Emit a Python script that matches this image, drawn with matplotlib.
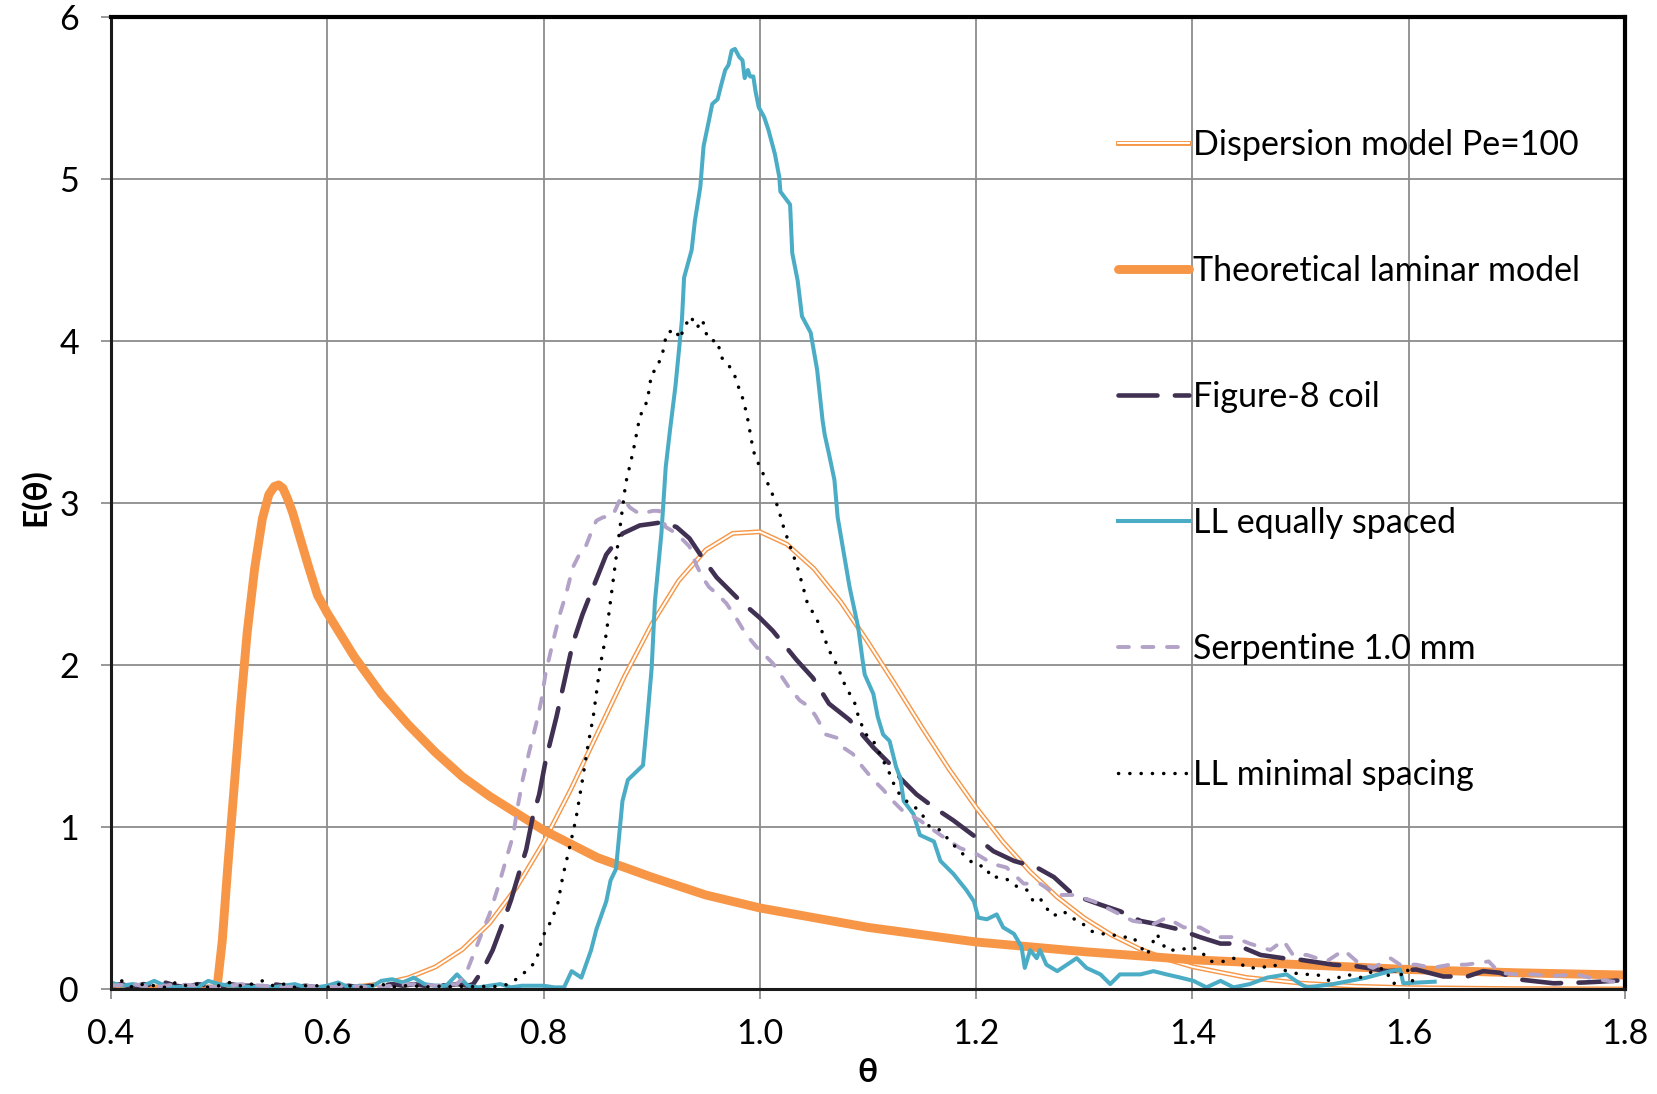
import matplotlib
matplotlib.use('Agg')
import matplotlib.pyplot as plt
import matplotlib.patheffects as pe

plt.rcParams['font.family'] = ['Lato', 'DejaVu Sans']

# dispersion model Pe=100
disp_x = [0.40, 0.50, 0.55, 0.60, 0.625, 0.65, 0.675, 0.70, 0.725, 0.75, 0.775, 0.80, 0.825, 0.85,
          0.875, 0.90, 0.925, 0.95, 0.975, 1.00, 1.025, 1.05, 1.075, 1.10, 1.125, 1.15, 1.175, 1.20,
          1.225, 1.25, 1.275, 1.30, 1.325, 1.35, 1.375, 1.40, 1.45, 1.50, 1.55, 1.60, 1.70, 1.80]
disp_y = [0.0, 0.0, 0.0, 0.005, 0.013, 0.031, 0.069, 0.136, 0.244, 0.405, 0.626, 0.904, 1.228, 1.579,
          1.930, 2.25, 2.519, 2.709, 2.811, 2.821, 2.744, 2.594, 2.387, 2.14, 1.880, 1.613, 1.356, 1.12,
          0.907, 0.723, 0.567, 0.438, 0.334, 0.251, 0.186, 0.137, 0.071, 0.036, 0.017, 0.008, 0.002, 0.0]

# theoretical laminar model
lam_x = [0.40, 0.498, 0.503, 0.508, 0.514, 0.520, 0.526, 0.533, 0.540, 0.546, 0.551, 0.555, 0.559,
         0.563, 0.568, 0.575, 0.583, 0.591, 0.60, 0.625, 0.65, 0.675, 0.70, 0.725, 0.75, 0.80, 0.85,
         0.90, 0.95, 1.00, 1.10, 1.20, 1.30, 1.40, 1.50, 1.60, 1.70, 1.80]
lam_y = [0.0, 0.0, 0.30, 0.75, 1.25, 1.75, 2.2, 2.6, 2.9, 3.05, 3.10, 3.11, 3.09,
         3.03, 2.94, 2.78, 2.60, 2.43, 2.32, 2.05, 1.82, 1.63, 1.46, 1.31, 1.19, 0.98, 0.81,
         0.69, 0.58, 0.50, 0.38, 0.29, 0.23, 0.18, 0.15, 0.12, 0.10, 0.086]

# Figure-8 coil
fig8_x = [0.40, 0.41, 0.42, 0.43, 0.44, 0.45, 0.46, 0.47, 0.48, 0.49, 0.50, 0.51, 0.52, 0.53, 0.54,
          0.55, 0.56, 0.57, 0.58, 0.59, 0.60, 0.61, 0.62, 0.63, 0.64, 0.65, 0.66, 0.67, 0.68, 0.69,
          0.70, 0.71, 0.72, 0.73, 0.735, 0.741, 0.747, 0.753, 0.762, 0.770, 0.778, 0.784, 0.790,
          0.796, 0.802, 0.812, 0.818, 0.827, 0.836, 0.846, 0.858, 0.873, 0.889, 0.900, 0.910, 0.923,
          0.935, 0.947, 0.960, 0.981, 1.000, 1.012, 1.034, 1.049, 1.064, 1.083, 1.105, 1.123, 1.130,
          1.145, 1.161, 1.179, 1.201, 1.216, 1.235, 1.256, 1.272, 1.290, 1.315, 1.333, 1.352, 1.367,
          1.386, 1.407, 1.426, 1.438, 1.463, 1.484, 1.500, 1.530, 1.552, 1.580, 1.607, 1.632, 1.654,
          1.669, 1.684, 1.703, 1.734, 1.762, 1.777, 1.800]
fig8_y = [0.02, 0.03, 0.01, 0.03, 0.02, 0.04, 0.02, 0.01, 0.03, 0.02, 0.01, 0.03, 0.02, 0.02, 0.01,
          0.03, 0.02, 0.01, 0.02, 0.01, 0.02, 0.01, 0.02, 0.01, 0.02, 0.02, 0.03, 0.02, 0.03, 0.02,
          0.03, 0.02, 0.03, 0.02, 0.03, 0.09, 0.16, 0.24, 0.40, 0.55, 0.73, 0.86, 1.06,
          1.20, 1.41, 1.68, 1.86, 2.13, 2.31, 2.48, 2.68, 2.81, 2.86, 2.87, 2.88, 2.85,
          2.78, 2.66, 2.54, 2.40, 2.29, 2.21, 2.03, 1.92, 1.76, 1.66, 1.49, 1.37, 1.30,
          1.20, 1.12, 1.04, 0.93, 0.85, 0.79, 0.75, 0.69, 0.58, 0.52, 0.48, 0.42, 0.40,
          0.37, 0.32, 0.28, 0.28, 0.21, 0.19, 0.18, 0.15, 0.14, 0.11, 0.12, 0.077, 0.077,
          0.11, 0.10, 0.058, 0.035, 0.04, 0.045, 0.055]

# LL equally spaced
lleq_x = [0.40, 0.41, 0.42, 0.43, 0.44, 0.45, 0.46, 0.47, 0.48, 0.49, 0.50, 0.51, 0.52, 0.53, 0.54,
          0.55, 0.56, 0.57, 0.58, 0.59, 0.60, 0.61, 0.62, 0.63, 0.64, 0.65, 0.66, 0.67, 0.68, 0.69,
          0.70, 0.71, 0.72, 0.73, 0.74, 0.75, 0.76, 0.77, 0.78, 0.79, 0.80, 0.81, 0.819,
          0.826, 0.835, 0.844, 0.849, 0.858, 0.862, 0.867, 0.870, 0.873, 0.878, 0.892, 0.896, 0.900,
          0.903, 0.909, 0.913, 0.917, 0.922, 0.928, 0.930, 0.937, 0.940, 0.945, 0.948, 0.953, 0.956,
          0.961, 0.964, 0.968, 0.971, 0.974, 0.977, 0.981, 0.984, 0.986, 0.989, 0.991, 0.994, 0.996,
          0.999, 1.004, 1.008, 1.014, 1.018, 1.019, 1.028, 1.030, 1.035, 1.039, 1.047, 1.053, 1.058,
          1.060, 1.064, 1.069, 1.072, 1.080, 1.083, 1.091, 1.095, 1.097, 1.105, 1.109, 1.114, 1.120,
          1.126, 1.130, 1.133, 1.142, 1.148, 1.161, 1.167, 1.179, 1.191, 1.198, 1.202, 1.210, 1.219,
          1.225, 1.235, 1.242, 1.245, 1.250, 1.256, 1.259, 1.265, 1.275, 1.284, 1.293, 1.302, 1.315,
          1.324, 1.333, 1.352, 1.364, 1.376, 1.389, 1.401, 1.413, 1.426, 1.438, 1.453, 1.469, 1.487,
          1.500, 1.506, 1.530, 1.561, 1.583, 1.592, 1.595, 1.610, 1.624]
lleq_y = [0.04, 0.02, 0.03, 0.02, 0.05, 0.02, 0.01, 0.02, 0.01, 0.05, 0.03, 0.02, 0.02, 0.01, 0.02,
          0.01, 0.02, 0.03, 0.01, 0.01, 0.02, 0.04, 0.01, 0.02, 0.01, 0.05, 0.06, 0.04, 0.07, 0.03,
          0.02, 0.02, 0.09, 0.02, 0.01, 0.02, 0.03, 0.01, 0.02, 0.02, 0.02, 0.01, 0.01,
          0.11, 0.07, 0.24, 0.37, 0.54, 0.67, 0.74, 0.95, 1.16, 1.29, 1.38, 1.67, 1.98,
          2.39, 2.81, 3.22, 3.45, 3.72, 4.13, 4.39, 4.56, 4.74, 4.95, 5.20, 5.36, 5.46,
          5.49, 5.57, 5.67, 5.70, 5.79, 5.80, 5.75, 5.73, 5.62, 5.67, 5.63, 5.63, 5.54,
          5.44, 5.38, 5.30, 5.15, 5.01, 4.92, 4.84, 4.54, 4.37, 4.15, 4.05, 3.82, 3.51,
          3.42, 3.30, 3.14, 2.91, 2.60, 2.48, 2.23, 2.03, 1.94, 1.82, 1.68, 1.57, 1.53,
          1.37, 1.30, 1.16, 1.08, 0.95, 0.91, 0.79, 0.71, 0.61, 0.54, 0.44, 0.43, 0.46,
          0.38, 0.34, 0.26, 0.13, 0.24, 0.19, 0.24, 0.15, 0.11, 0.15, 0.19, 0.13, 0.09,
          0.03, 0.09, 0.09, 0.11, 0.09, 0.07, 0.05, 0.01, 0.05, 0.01, 0.03, 0.07, 0.09,
          0.03, 0.01, 0.03, 0.07, 0.11, 0.12, 0.035, 0.04, 0.045]

# Serpentine 1.0 mm
serp_x = [0.40, 0.42, 0.44, 0.46, 0.48, 0.50, 0.52, 0.54, 0.56, 0.58, 0.60, 0.62, 0.64, 0.66, 0.68,
          0.70, 0.72, 0.728, 0.738, 0.745, 0.750, 0.759, 0.765, 0.772, 0.776, 0.781, 0.787, 0.793,
          0.798, 0.802, 0.809, 0.815, 0.821, 0.827, 0.833, 0.839, 0.846, 0.849, 0.855, 0.864, 0.870,
          0.873, 0.880, 0.889, 0.901, 0.907, 0.913, 0.923, 0.935, 0.941, 0.947, 0.953, 0.960, 0.969,
          0.978, 0.987, 0.997, 1.003, 1.012, 1.021, 1.027, 1.037, 1.046, 1.052, 1.061, 1.071, 1.077,
          1.086, 1.095, 1.105, 1.114, 1.123, 1.132, 1.148, 1.167, 1.185, 1.201, 1.216, 1.228, 1.244,
          1.259, 1.275, 1.290, 1.309, 1.327, 1.345, 1.364, 1.376, 1.392, 1.407, 1.423, 1.438, 1.453,
          1.472, 1.484, 1.493, 1.506, 1.524, 1.540, 1.552, 1.567, 1.583, 1.592, 1.607, 1.622, 1.638,
          1.653, 1.674, 1.684, 1.699, 1.715, 1.733, 1.755, 1.770, 1.789, 1.797]
serp_y = [0.02, 0.03, 0.01, 0.03, 0.02, 0.01, 0.03, 0.02, 0.01, 0.02, 0.01, 0.02, 0.01, 0.02, 0.03,
          0.02, 0.03, 0.09, 0.26, 0.38, 0.46, 0.65, 0.79, 0.95, 1.12, 1.30, 1.47, 1.63,
          1.78, 1.95, 2.15, 2.31, 2.44, 2.60, 2.68, 2.73, 2.85, 2.89, 2.91, 2.92, 3.01,
          3.03, 2.97, 2.93, 2.95, 2.95, 2.85, 2.81, 2.73, 2.62, 2.54, 2.48, 2.44, 2.38,
          2.29, 2.19, 2.11, 2.07, 2.01, 1.92, 1.86, 1.78, 1.74, 1.68, 1.57, 1.55, 1.49,
          1.45, 1.37, 1.29, 1.23, 1.16, 1.10, 1.04, 0.95, 0.87, 0.83, 0.77, 0.75, 0.65,
          0.65, 0.58, 0.58, 0.54, 0.48, 0.42, 0.40, 0.44, 0.38, 0.38, 0.32, 0.32, 0.28,
          0.24, 0.30, 0.21, 0.21, 0.17, 0.24, 0.17, 0.13, 0.19, 0.15, 0.15, 0.13, 0.15,
          0.15, 0.17, 0.10, 0.09, 0.09, 0.08, 0.09, 0.065, 0.045, 0.055]

# LL minimal spacing
llmin_x = [0.40, 0.41, 0.42, 0.43, 0.44, 0.45, 0.46, 0.47, 0.48, 0.49, 0.50, 0.51, 0.52, 0.53, 0.54,
           0.55, 0.56, 0.57, 0.58, 0.59, 0.60, 0.61, 0.62, 0.63, 0.64, 0.65, 0.66, 0.67, 0.68, 0.69,
           0.70, 0.71, 0.72, 0.73, 0.74, 0.75, 0.76, 0.769, 0.784, 0.793, 0.799, 0.807, 0.813, 0.818,
           0.824, 0.830, 0.836, 0.841, 0.846, 0.852, 0.858, 0.864, 0.870, 0.876, 0.883, 0.889, 0.896,
           0.900, 0.904, 0.910, 0.914, 0.919, 0.922, 0.926, 0.930, 0.936, 0.942, 0.947, 0.950, 0.954,
           0.961, 0.964, 0.970, 0.974, 0.977, 0.981, 0.985, 0.989, 0.994, 1.000, 1.006, 1.017, 1.021,
           1.027, 1.034, 1.040, 1.044, 1.046, 1.055, 1.064, 1.072, 1.077, 1.080, 1.088, 1.092, 1.100,
           1.105, 1.114, 1.120, 1.126, 1.132, 1.139, 1.148, 1.157, 1.167, 1.176, 1.185, 1.198, 1.210,
           1.213, 1.222, 1.231, 1.238, 1.247, 1.253, 1.259, 1.265, 1.271, 1.281, 1.287, 1.296, 1.305,
           1.315, 1.324, 1.333, 1.345, 1.358, 1.367, 1.376, 1.389, 1.398, 1.407, 1.416, 1.429, 1.438,
           1.450, 1.463, 1.475, 1.487, 1.500, 1.515, 1.527, 1.543, 1.555, 1.567, 1.577, 1.586, 1.598,
           1.605]
llmin_y = [0.03, 0.05, 0.01, 0.03, 0.02, 0.01, 0.04, 0.02, 0.03, 0.01, 0.02, 0.04, 0.02, 0.03, 0.05,
           0.02, 0.03, 0.01, 0.02, 0.02, 0.01, 0.03, 0.02, 0.01, 0.02, 0.03, 0.01, 0.02, 0.02, 0.01,
           0.02, 0.01, 0.02, 0.01, 0.02, 0.01, 0.02, 0.03, 0.11, 0.17, 0.32, 0.42, 0.52, 0.70,
           0.87, 1.05, 1.29, 1.50, 1.68, 1.98, 2.19, 2.50, 2.81, 3.12, 3.32, 3.53, 3.63,
           3.80, 3.82, 3.92, 4.05, 4.06, 4.07, 4.01, 4.08, 4.15, 4.08, 4.13, 4.05, 4.00,
           4.00, 3.90, 3.86, 3.82, 3.78, 3.70, 3.63, 3.51, 3.32, 3.22, 3.14, 2.97, 2.87,
           2.75, 2.62, 2.48, 2.38, 2.36, 2.25, 2.09, 1.99, 1.90, 1.86, 1.76, 1.66, 1.55,
           1.53, 1.41, 1.33, 1.23, 1.18, 1.14, 1.10, 1.00, 0.98, 0.91, 0.85, 0.77, 0.75,
           0.69, 0.69, 0.67, 0.63, 0.61, 0.54, 0.56, 0.50, 0.45, 0.48, 0.44, 0.42, 0.36,
           0.34, 0.34, 0.32, 0.32, 0.21, 0.34, 0.24, 0.24, 0.26, 0.24, 0.17, 0.17, 0.19,
           0.13, 0.13, 0.15, 0.11, 0.09, 0.09, 0.05, 0.09, 0.07, 0.11, 0.13, 0.03, 0.13,
           0.03]

x_ticks = [0.4, 0.6, 0.8, 1.0, 1.2, 1.4, 1.6, 1.8]
y_ticks = [0, 1, 2, 3, 4, 5, 6]

orange = '#F79646'
fig = plt.figure(figsize=(16.58, 10.94), dpi=100)
ax = fig.add_axes([0.0669, 0.0960, 0.9132, 0.8889])

ax.plot(disp_x, disp_y, color='white', lw=1.45, label='Dispersion model Pe=100',
        path_effects=[pe.Stroke(linewidth=3.5, foreground=orange), pe.Normal()])
ax.plot(lam_x, lam_y, color=orange, lw=6.4, solid_capstyle='round', solid_joinstyle='round',
        label='Theoretical laminar model')
ax.plot(fig8_x, fig8_y, color='#403152', lw=3.3, linestyle=(0, (8.5, 3.8)), dash_capstyle='round',
        label='Figure-8 coil')
ax.plot(lleq_x, lleq_y, color='#4BACC6', lw=2.9, label='LL equally spaced')
ax.plot(serp_x, serp_y, color='#B3A2C7', lw=2.8, linestyle=(0, (2.8, 3.5)), dash_capstyle='round',
        label='Serpentine 1.0 mm')
ax.plot(llmin_x, llmin_y, color='black', lw=2.5, linestyle=(0, (0.05, 3.2)), dash_capstyle='round',
        label='LL minimal spacing')

ax.set_xlim(0.4, 1.8)
ax.set_ylim(0, 6)
ax.set_xticks(x_ticks)
ax.set_xticklabels(['%.1f' % v for v in x_ticks])
ax.set_yticks(y_ticks)
ax.grid(True, color='#8C8C8C', lw=1.3)
ax.set_axisbelow(True)
ax.tick_params(direction='out', length=7, width=1.2, color='#868686', labelsize=24.5)
ax.tick_params(axis='x', pad=14)
ax.tick_params(axis='y', pad=16)

for side in ['top', 'right']:
    ax.spines[side].set_linewidth(3.0)
    ax.spines[side].set_color('black')
for side in ['left', 'bottom']:
    ax.spines[side].set_linewidth(2.2)
    ax.spines[side].set_color('#1a1a1a')

ax.set_xlabel('θ', fontsize=24, fontweight='bold', va='center')
ax.xaxis.set_label_coords(0.5, -0.0864)
ax.set_ylabel('E(θ)', fontsize=24, fontweight='bold', va='center')
ax.yaxis.set_label_coords(-0.0502, 0.506)

ax.legend(loc='upper left', bbox_to_anchor=(0.665, 0.884), frameon=False, fontsize=24.5,
          handlelength=2.1, handletextpad=0.1, labelspacing=2.76, borderpad=0, borderaxespad=0)

fig.savefig('out.png', dpi=100)
